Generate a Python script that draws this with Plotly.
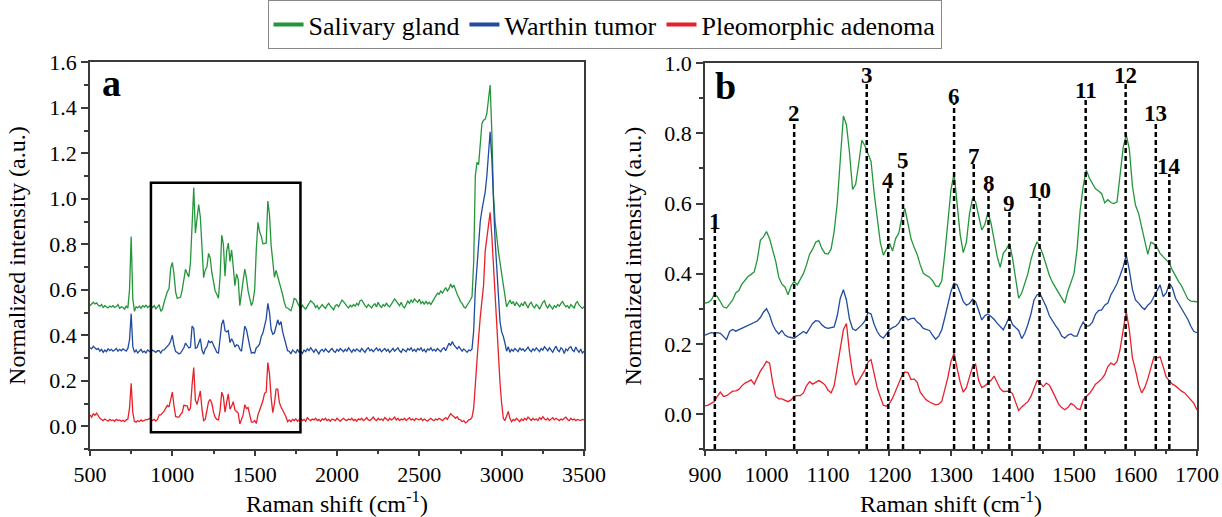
import plotly.graph_objects as go

# ---------------- data: panel a (full spectrum) ----------------
x_a = list(range(500, 3510, 10))

green_a = [
    0.530, 0.540, 0.545, 0.538, 0.542, 0.532, 0.528, 0.535, 0.522, 0.530,
    0.526, 0.520, 0.528, 0.524, 0.530, 0.522, 0.526, 0.535, 0.518, 0.525,
    0.522, 0.515, 0.528, 0.520, 0.600, 0.834, 0.560, 0.505, 0.525, 0.520,
    0.528, 0.518, 0.530, 0.524, 0.532, 0.522, 0.528, 0.530, 0.522, 0.530,
    0.516, 0.525, 0.535, 0.505, 0.515, 0.545, 0.570, 0.592, 0.605, 0.695,
    0.720, 0.670, 0.590, 0.562, 0.565, 0.568, 0.600, 0.655, 0.690, 0.672,
    0.656, 0.720, 0.930, 1.050, 0.850, 0.915, 0.975, 0.920, 0.755, 0.653,
    0.687, 0.700, 0.760, 0.740, 0.675, 0.625, 0.595, 0.580, 0.563, 0.658,
    0.840, 0.800, 0.660, 0.770, 0.805, 0.725, 0.775, 0.700, 0.618, 0.670,
    0.645, 0.530, 0.575, 0.640, 0.691, 0.652, 0.595, 0.560, 0.530, 0.550,
    0.600, 0.780, 0.896, 0.855, 0.836, 0.802, 0.803, 0.805, 0.990, 0.930,
    0.795, 0.730, 0.655, 0.685, 0.658, 0.640, 0.610, 0.578, 0.545, 0.522,
    0.520, 0.515, 0.508, 0.530, 0.562, 0.558, 0.540, 0.528, 0.518, 0.532,
    0.522, 0.515, 0.528, 0.540, 0.552, 0.545, 0.538, 0.522, 0.530, 0.515,
    0.528, 0.535, 0.525, 0.518, 0.532, 0.540, 0.528, 0.522, 0.512, 0.530,
    0.535, 0.525, 0.540, 0.555, 0.548, 0.535, 0.528, 0.520, 0.532, 0.525,
    0.535, 0.528, 0.540, 0.532, 0.552, 0.555, 0.540, 0.530, 0.522, 0.535,
    0.528, 0.520, 0.532, 0.538, 0.525, 0.545, 0.530, 0.522, 0.535, 0.528,
    0.542, 0.530, 0.525, 0.538, 0.548, 0.560, 0.550, 0.540, 0.530, 0.545,
    0.528, 0.520, 0.535, 0.550, 0.540, 0.555, 0.545, 0.560, 0.552, 0.545,
    0.558, 0.540, 0.548, 0.535, 0.550, 0.538, 0.545, 0.535, 0.548, 0.560,
    0.575, 0.585, 0.580, 0.595, 0.585, 0.600, 0.610, 0.595, 0.605, 0.625,
    0.610, 0.620, 0.595, 0.580, 0.565, 0.548, 0.540, 0.525, 0.520, 0.530,
    0.545, 0.555, 0.570, 0.720, 1.100, 1.160, 1.150, 1.250, 1.330, 1.345,
    1.350, 1.375, 1.440, 1.500, 1.300, 1.020, 0.900, 0.820, 0.770, 0.720,
    0.670, 0.620, 0.555, 0.525, 0.540, 0.555, 0.538, 0.548, 0.530, 0.545,
    0.535, 0.525, 0.540, 0.530, 0.548, 0.535, 0.520, 0.538, 0.545, 0.528,
    0.520, 0.535, 0.528, 0.515, 0.530, 0.545, 0.552, 0.530, 0.520, 0.535,
    0.525, 0.515, 0.530, 0.522, 0.535, 0.528, 0.540, 0.548, 0.535, 0.525,
    0.530, 0.518, 0.535, 0.528, 0.520, 0.540, 0.548, 0.532, 0.525, 0.518,
    0.525,
]

blue_a = [
    0.345, 0.340, 0.352, 0.345, 0.338, 0.342, 0.330, 0.338, 0.325, 0.335,
    0.328, 0.340, 0.332, 0.338, 0.330, 0.335, 0.342, 0.330, 0.338, 0.332,
    0.340, 0.335, 0.330, 0.342, 0.380, 0.495, 0.350, 0.325, 0.335, 0.322,
    0.332, 0.338, 0.325, 0.330, 0.322, 0.335, 0.330, 0.325, 0.335, 0.330,
    0.325, 0.332, 0.332, 0.322, 0.335, 0.336, 0.344, 0.354, 0.360, 0.375,
    0.400, 0.355, 0.328, 0.325, 0.318, 0.322, 0.335, 0.345, 0.366, 0.354,
    0.344, 0.348, 0.440, 0.430, 0.343, 0.346, 0.365, 0.385, 0.335, 0.316,
    0.340, 0.350, 0.375, 0.368, 0.373, 0.355, 0.342, 0.325, 0.322, 0.375,
    0.450, 0.468, 0.420, 0.415, 0.420, 0.368, 0.385, 0.370, 0.348, 0.358,
    0.355, 0.338, 0.330, 0.385, 0.440, 0.425, 0.380, 0.352, 0.322, 0.325,
    0.322, 0.345, 0.350, 0.362, 0.395, 0.410, 0.440, 0.472, 0.540, 0.500,
    0.425, 0.405, 0.410, 0.435, 0.468, 0.445, 0.460, 0.415, 0.385, 0.350,
    0.332, 0.330, 0.318, 0.335, 0.328, 0.322, 0.338, 0.325, 0.330, 0.320,
    0.335, 0.328, 0.340, 0.332, 0.345, 0.335, 0.325, 0.340, 0.330, 0.318,
    0.332, 0.338, 0.328, 0.340, 0.332, 0.325, 0.335, 0.342, 0.330, 0.325,
    0.338, 0.330, 0.342, 0.335, 0.328, 0.338, 0.330, 0.345, 0.335, 0.325,
    0.338, 0.330, 0.340, 0.335, 0.328, 0.342, 0.335, 0.325, 0.338, 0.345,
    0.332, 0.338, 0.328, 0.335, 0.345, 0.332, 0.340, 0.328, 0.335, 0.342,
    0.330, 0.338, 0.325, 0.335, 0.342, 0.330, 0.338, 0.345, 0.332, 0.325,
    0.340, 0.335, 0.328, 0.342, 0.335, 0.345, 0.330, 0.338, 0.328, 0.342,
    0.335, 0.345, 0.330, 0.338, 0.325, 0.340, 0.335, 0.345, 0.332, 0.338,
    0.330, 0.342, 0.335, 0.328, 0.340, 0.345, 0.332, 0.348, 0.365, 0.355,
    0.372, 0.358, 0.348, 0.340, 0.350, 0.338, 0.330, 0.340, 0.332, 0.325,
    0.335, 0.332, 0.340, 0.420, 0.600, 0.700, 0.830, 0.900, 0.950, 0.990,
    1.030, 1.100, 1.200, 1.295, 1.180, 0.980, 0.820, 0.700, 0.560, 0.460,
    0.415, 0.395, 0.365, 0.330, 0.350, 0.325, 0.338, 0.330, 0.342, 0.335,
    0.328, 0.345, 0.335, 0.340, 0.330, 0.338, 0.348, 0.335, 0.328, 0.340,
    0.332, 0.345, 0.335, 0.328, 0.342, 0.335, 0.350, 0.338, 0.332, 0.345,
    0.335, 0.325, 0.340, 0.352, 0.335, 0.328, 0.345, 0.338, 0.320, 0.340,
    0.332, 0.345, 0.350, 0.335, 0.328, 0.348, 0.335, 0.325, 0.340, 0.322,
    0.330,
]

red_a = [
    0.050, 0.040, 0.055, 0.048, 0.058, 0.045, 0.035, 0.030, 0.025, 0.032,
    0.028, 0.022, 0.030, 0.025, 0.028, 0.022, 0.030, 0.025, 0.028, 0.022,
    0.026, 0.020, 0.028, 0.032, 0.080, 0.189, 0.060, 0.022, 0.018, 0.025,
    0.020, 0.028, 0.022, 0.025, 0.030, 0.028, 0.035, 0.030, 0.025, 0.030,
    0.023, 0.030, 0.050, 0.050, 0.058, 0.066, 0.080, 0.092, 0.085, 0.122,
    0.150, 0.090, 0.043, 0.040, 0.040, 0.052, 0.060, 0.092, 0.090, 0.090,
    0.068, 0.080, 0.182, 0.258, 0.115, 0.095, 0.125, 0.155, 0.075, 0.025,
    0.030, 0.066, 0.108, 0.118, 0.100, 0.062, 0.040, 0.030, 0.028, 0.070,
    0.150, 0.130, 0.062, 0.105, 0.142, 0.075, 0.088, 0.108, 0.072, 0.065,
    0.058, 0.010, 0.028, 0.050, 0.095, 0.078, 0.082, 0.048, 0.018, 0.018,
    0.025, 0.012, 0.050, 0.070, 0.092, 0.112, 0.145, 0.150, 0.280, 0.230,
    0.125, 0.060, 0.100, 0.163, 0.163, 0.105, 0.085, 0.072, 0.060, 0.042,
    0.020, 0.028, 0.020, 0.030, 0.025, 0.032, 0.022, 0.028, 0.035, 0.025,
    0.030, 0.022, 0.038, 0.030, 0.025, 0.032, 0.028, 0.035, 0.025, 0.030,
    0.022, 0.032, 0.028, 0.035, 0.025, 0.030, 0.022, 0.032, 0.028, 0.025,
    0.035, 0.028, 0.022, 0.030, 0.035, 0.028, 0.025, 0.032, 0.028, 0.035,
    0.025, 0.030, 0.022, 0.032, 0.028, 0.035, 0.025, 0.030, 0.038, 0.028,
    0.025, 0.032, 0.040, 0.030, 0.025, 0.035, 0.028, 0.032, 0.025, 0.038,
    0.030, 0.025, 0.035, 0.028, 0.032, 0.040, 0.028, 0.035, 0.025, 0.032,
    0.028, 0.035, 0.025, 0.030, 0.038, 0.028, 0.032, 0.025, 0.035, 0.030,
    0.028, 0.035, 0.025, 0.032, 0.028, 0.022, 0.030, 0.035, 0.028, 0.025,
    0.032, 0.028, 0.035, 0.030, 0.025, 0.032, 0.038, 0.030, 0.045, 0.055,
    0.048, 0.040, 0.035, 0.042, 0.030, 0.028, 0.020, 0.025, 0.015, 0.020,
    0.028, 0.030, 0.040, 0.080, 0.200, 0.270, 0.390, 0.480, 0.540, 0.620,
    0.770, 0.830, 0.900, 0.940, 0.840, 0.730, 0.580, 0.450, 0.310, 0.190,
    0.100, 0.035, 0.025, 0.050, 0.065, 0.035, 0.020, 0.030, 0.025, 0.035,
    0.028, 0.020, 0.032, 0.025, 0.035, 0.028, 0.040, 0.030, 0.025, 0.035,
    0.028, 0.032, 0.025, 0.038, 0.030, 0.042, 0.032, 0.028, 0.035, 0.025,
    0.030, 0.038, 0.028, 0.035, 0.030, 0.025, 0.032, 0.028, 0.035, 0.040,
    0.030, 0.025, 0.035, 0.028, 0.032, 0.025, 0.030, 0.028, 0.025, 0.030,
    0.028,
]

# ---------------- data: panel b (fingerprint region) ----------------
x_b = list(range(900, 1705, 5))

green_b = [
    0.316, 0.318, 0.325, 0.340, 0.335, 0.318, 0.305, 0.302, 0.315, 0.325,
    0.345, 0.352, 0.370, 0.380, 0.392, 0.398, 0.405, 0.440, 0.495, 0.505,
    0.520, 0.500, 0.470, 0.435, 0.390, 0.370, 0.362, 0.340, 0.365, 0.378,
    0.368, 0.385, 0.400, 0.425, 0.455, 0.470, 0.490, 0.495, 0.472, 0.458,
    0.456, 0.470, 0.520, 0.600, 0.734, 0.850, 0.825, 0.745, 0.640, 0.655,
    0.715, 0.780, 0.765, 0.745, 0.720, 0.630, 0.555, 0.490, 0.453, 0.470,
    0.487, 0.465, 0.500, 0.515, 0.560, 0.586, 0.540, 0.500, 0.475, 0.455,
    0.425, 0.401, 0.395, 0.390, 0.380, 0.365, 0.363, 0.380, 0.458, 0.540,
    0.640, 0.686, 0.600, 0.510, 0.460, 0.490, 0.570, 0.615, 0.605, 0.565,
    0.525, 0.540, 0.575, 0.545, 0.500, 0.450, 0.418, 0.458, 0.470, 0.487,
    0.445, 0.385, 0.330, 0.345, 0.375, 0.400, 0.440, 0.470, 0.491, 0.475,
    0.452, 0.425, 0.395, 0.375, 0.360, 0.345, 0.330, 0.316, 0.350, 0.378,
    0.400, 0.470, 0.580, 0.650, 0.696, 0.672, 0.655, 0.642, 0.636, 0.628,
    0.602, 0.611, 0.603, 0.600, 0.605, 0.680, 0.760, 0.796, 0.755, 0.650,
    0.595, 0.572, 0.530, 0.490, 0.455, 0.490, 0.485, 0.475, 0.458, 0.448,
    0.440, 0.430, 0.410, 0.392, 0.378, 0.365, 0.345, 0.328, 0.322, 0.320,
    0.320,
]

blue_b = [
    0.225, 0.228, 0.232, 0.230, 0.232, 0.230, 0.222, 0.212, 0.235, 0.241,
    0.236, 0.240, 0.244, 0.248, 0.254, 0.256, 0.260, 0.265, 0.275, 0.290,
    0.300, 0.282, 0.255, 0.238, 0.228, 0.238, 0.225, 0.220, 0.218, 0.216,
    0.222, 0.228, 0.235, 0.230, 0.245, 0.258, 0.266, 0.265, 0.254, 0.247,
    0.244, 0.246, 0.248, 0.280, 0.330, 0.354, 0.325, 0.270, 0.243, 0.238,
    0.246, 0.254, 0.265, 0.289, 0.285, 0.256, 0.235, 0.222, 0.216, 0.228,
    0.240, 0.246, 0.250, 0.259, 0.275, 0.278, 0.268, 0.272, 0.273, 0.262,
    0.255, 0.244, 0.242, 0.238, 0.225, 0.213, 0.222, 0.240, 0.275, 0.315,
    0.350, 0.373, 0.368, 0.345, 0.320, 0.310, 0.315, 0.327, 0.320, 0.295,
    0.268, 0.280, 0.285, 0.278, 0.270, 0.259, 0.248, 0.240, 0.258, 0.278,
    0.255, 0.245, 0.238, 0.215, 0.230, 0.255, 0.285, 0.325, 0.340, 0.342,
    0.325, 0.305, 0.280, 0.265, 0.252, 0.240, 0.222, 0.216, 0.225, 0.228,
    0.222, 0.222, 0.245, 0.262, 0.250, 0.252, 0.262, 0.285, 0.295, 0.297,
    0.310, 0.316, 0.340, 0.355, 0.372, 0.395, 0.420, 0.453, 0.410, 0.355,
    0.325, 0.316, 0.305, 0.298, 0.310, 0.318, 0.335, 0.350, 0.368, 0.335,
    0.345, 0.373, 0.360, 0.330, 0.315, 0.300, 0.285, 0.270, 0.250, 0.235,
    0.232,
]

red_b = [
    0.023, 0.025, 0.030, 0.035, 0.050, 0.062, 0.050, 0.052, 0.058, 0.065,
    0.066, 0.070, 0.080, 0.088, 0.092, 0.097, 0.085, 0.105, 0.122, 0.135,
    0.150, 0.145, 0.090, 0.050, 0.043, 0.043, 0.040, 0.035, 0.040, 0.050,
    0.052, 0.052, 0.060, 0.080, 0.092, 0.085, 0.090, 0.095, 0.090, 0.083,
    0.068, 0.060, 0.080, 0.130, 0.182, 0.240, 0.258, 0.175, 0.115, 0.082,
    0.095, 0.110, 0.125, 0.148, 0.155, 0.115, 0.075, 0.049, 0.025, 0.022,
    0.030, 0.045, 0.066, 0.090, 0.108, 0.120, 0.118, 0.098, 0.100, 0.090,
    0.062, 0.050, 0.040, 0.034, 0.030, 0.026, 0.028, 0.036, 0.070, 0.105,
    0.150, 0.173, 0.130, 0.090, 0.062, 0.075, 0.105, 0.135, 0.142, 0.095,
    0.075, 0.080, 0.088, 0.095, 0.108, 0.090, 0.072, 0.064, 0.065, 0.065,
    0.058, 0.035, 0.010, 0.020, 0.028, 0.035, 0.050, 0.075, 0.095, 0.088,
    0.078, 0.088, 0.082, 0.065, 0.048, 0.028, 0.018, 0.012, 0.018, 0.030,
    0.025, 0.015, 0.012, 0.040, 0.050, 0.058, 0.070, 0.085, 0.092, 0.100,
    0.112, 0.135, 0.145, 0.140, 0.150, 0.185, 0.240, 0.292, 0.240, 0.160,
    0.125, 0.085, 0.060, 0.075, 0.100, 0.135, 0.163, 0.160, 0.163, 0.135,
    0.105, 0.095, 0.085, 0.080, 0.072, 0.065, 0.060, 0.050, 0.042, 0.030,
    0.011,
]

# peak markers in panel b
peak_labels = ["1", "2", "3", "4", "5", "6", "7", "8", "9", "10", "11", "12", "13", "14"]
peak_pos = [916, 1045, 1163, 1198, 1222, 1305, 1337, 1361, 1395, 1444, 1519, 1584, 1633, 1655]
peak_top = [0.528, 0.835, 0.944, 0.644, 0.700, 0.884, 0.713, 0.636, 0.579, 0.616, 0.901, 0.944, 0.835, 0.684]

# highlighted region in panel a
box_x = [870, 1778]
box_y = [-0.026, 1.071]

series_names = ["Salivary gland", "Warthin tumor", "Pleomorphic adenoma"]
colors = ["#23963a", "#1f4ba0", "#e8202a"]

FONT = "Liberation Serif"

fig = go.Figure()
for name, col, ya in zip(series_names, colors, [green_a, blue_a, red_a]):
    fig.add_trace(go.Scatter(x=x_a, y=ya, mode="lines", name=name, showlegend=False,
                             line=dict(color=col, width=1.3), xaxis="x", yaxis="y"))
for name, col, yb in zip(series_names, colors, [green_b, blue_b, red_b]):
    fig.add_trace(go.Scatter(x=x_b, y=yb, mode="lines", name=name, showlegend=False,
                             line=dict(color=col, width=1.3), xaxis="x2", yaxis="y2"))
# legend-only entries (thicker key lines, as in the reference legend)
for name, col in zip(series_names, colors):
    fig.add_trace(go.Scatter(x=[None], y=[None], mode="lines", name=name, showlegend=True,
                             line=dict(color=col, width=4), xaxis="x", yaxis="y"))

shapes = [dict(type="rect", xref="x", yref="y", x0=box_x[0], x1=box_x[1], y0=box_y[0], y1=box_y[1],
               line=dict(color="black", width=2.5), layer="above")]
annotations = []
for lab, px, top in zip(peak_labels, peak_pos, peak_top):
    shapes.append(dict(type="line", xref="x2", yref="y2", x0=px, x1=px, y0=-0.1, y1=top,
                       line=dict(color="black", width=2.5, dash="5px,3px"), layer="above"))
    annotations.append(dict(x=px, y=top, xref="x2", yref="y2", text="<b>%s</b>" % lab,
                            showarrow=False, yanchor="bottom", yshift=-7,
                            font=dict(family=FONT, size=23, color="black")))

annotations.append(dict(x=560, y=1.51, xref="x", yref="y", text="<b>a</b>", showarrow=False,
                        xanchor="left", yanchor="middle", font=dict(family=FONT, size=38, color="black")))
annotations.append(dict(x=913, y=0.935, xref="x2", yref="y2", text="<b>b</b>", showarrow=False,
                        xanchor="left", yanchor="middle", font=dict(family=FONT, size=38, color="black")))

axis_common = dict(showline=True, linecolor="#3a3a3a", linewidth=1.5, mirror=True,
                   ticks="outside", tickwidth=1.5, tickcolor="#3a3a3a",
                   showgrid=False, zeroline=False, automargin=False,
                   tickfont=dict(family=FONT, size=22, color="black"))

title_font = dict(family=FONT, size=24, color="black")

fig.update_layout(
    width=1222, height=517,
    margin=dict(l=0, r=0, t=0, b=0, pad=0, autoexpand=False),
    paper_bgcolor="white", plot_bgcolor="white",
    font=dict(family=FONT, color="black"),
    xaxis=dict(domain=[0.07365, 0.47791], range=[500, 3500], anchor="y",
               dtick=500, tick0=500, ticklen=5,
               minor=dict(ticks="outside", ticklen=3, dtick=250, tickcolor="#3a3a3a", tickwidth=1.5),
               title=dict(text="Raman shift (cm<sup>-1</sup>)", font=title_font, standoff=6),
               **axis_common),
    yaxis=dict(domain=[0.13153, 0.8795], range=[-0.1, 1.6], anchor="x",
               dtick=0.2, tick0=0, tickformat=".1f", ticklen=7,
               minor=dict(ticks="outside", ticklen=4, dtick=0.1, tickcolor="#3a3a3a", tickwidth=1.5),
               title=dict(text="Normalized intensity (a.u.)", font=title_font, standoff=17),
               **axis_common),
    xaxis2=dict(domain=[0.57692, 0.97954], range=[900, 1700], anchor="y2",
                dtick=100, tick0=900, ticklen=5,
                minor=dict(ticks="outside", ticklen=3, dtick=50, tickcolor="#3a3a3a", tickwidth=1.5),
                title=dict(text="Raman shift (cm<sup>-1</sup>)", font=title_font, standoff=6),
                **axis_common),
    yaxis2=dict(domain=[0.13153, 0.87756], range=[-0.1, 1.0], anchor="x2",
                dtick=0.2, tick0=0, tickformat=".1f", ticklen=7,
                minor=dict(ticks="outside", ticklen=4, dtick=0.1, tickcolor="#3a3a3a", tickwidth=1.5),
                title=dict(text="Normalized intensity (a.u.)", font=title_font, standoff=16),
                **axis_common),
    legend=dict(orientation="h", x=0.4947, xanchor="center", y=1.0, yanchor="top",
                bordercolor="#888888", borderwidth=1, bgcolor="white",
                font=dict(family=FONT, size=26, color="black"),
                itemwidth=30, tracegroupgap=0),
    shapes=shapes,
    annotations=annotations,
)

fig.write_html("out.html")
